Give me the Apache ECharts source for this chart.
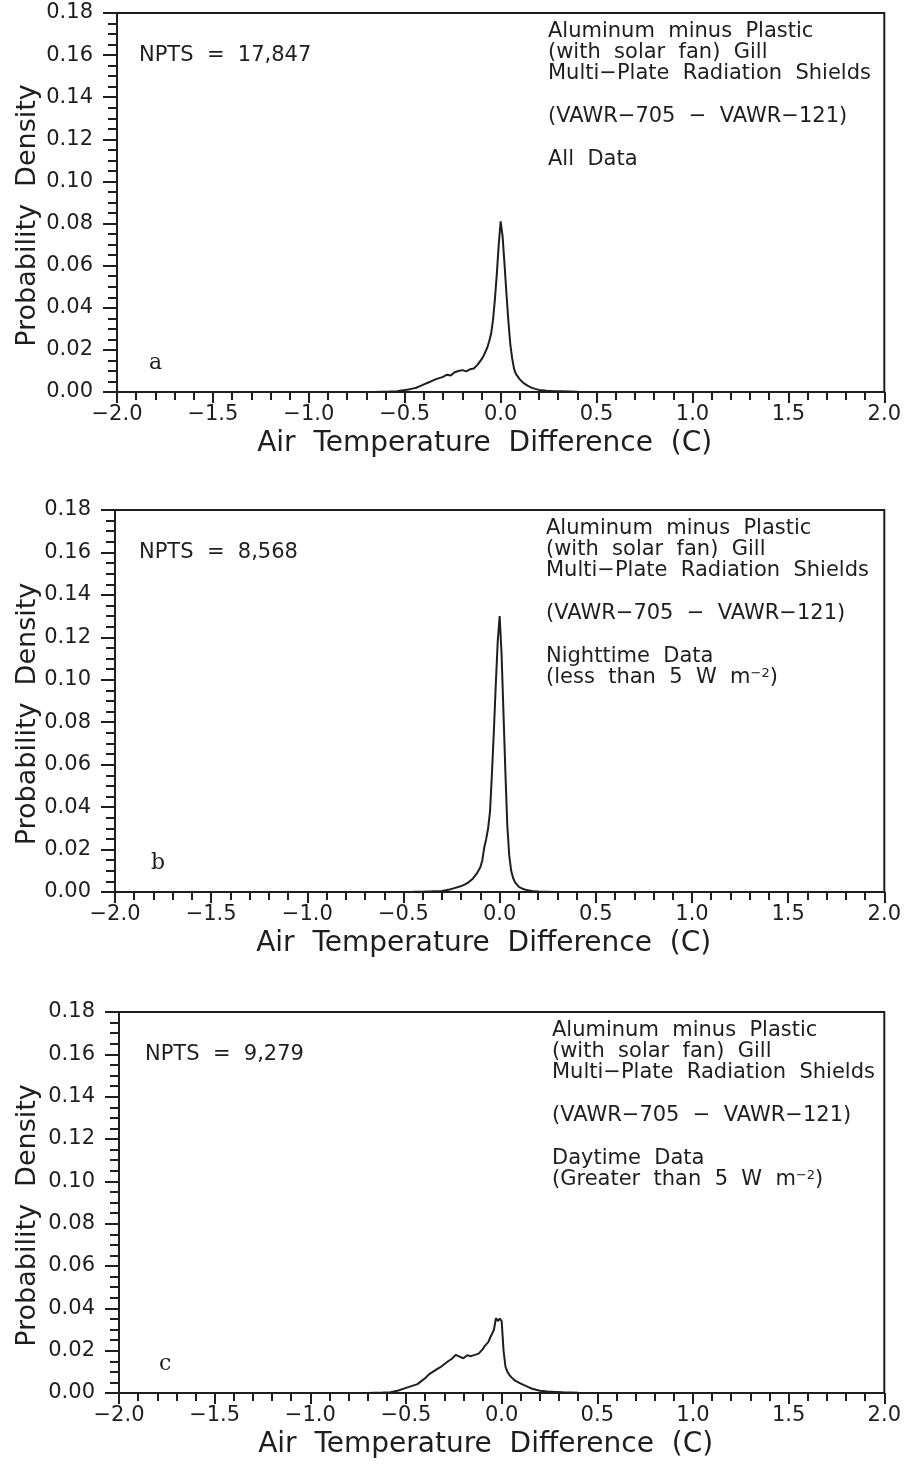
<html>
<head>
    <title></title>
    <meta charset="utf-8">
    <script src="https://cdn.jsdelivr.net/npm/echarts@6/dist/echarts.min.js" type="text/javascript"></script>
    <style>
        body { margin: 0; background: #fff; }
    </style>
</head>
<body>
    <div id="main" style="width: 904px; height: 1464px"></div>
    <script>
        // temperature difference (C) at which the densities were read
        var xs = [-0.70, -0.66, -0.62, -0.58, -0.54,
            -0.50, -0.48, -0.46, -0.44, -0.42, -0.40, -0.38, -0.36, -0.34, -0.32, -0.30,
            -0.28, -0.26, -0.24, -0.22, -0.20, -0.18, -0.16, -0.14, -0.12, -0.10,
            -0.09, -0.08, -0.07, -0.06, -0.05, -0.04, -0.03, -0.02, -0.01, 0.00,
            0.01, 0.02, 0.03, 0.04, 0.05, 0.06, 0.07, 0.08,
            0.10, 0.12, 0.14, 0.16, 0.18, 0.20, 0.24, 0.28, 0.32, 0.36, 0.40, 0.45, 0.50];

        // (a) all data
        var allData = [0, 0, 0.0001, 0.0002, 0.0004,
            0.0009, 0.0012, 0.0016, 0.0020, 0.0028, 0.0036, 0.0044, 0.0052, 0.0060, 0.0066, 0.0072,
            0.0082, 0.0078, 0.0094, 0.0100, 0.0104, 0.0098, 0.0108, 0.0112, 0.0130, 0.0155,
            0.0170, 0.0190, 0.0210, 0.0240, 0.0275, 0.0340, 0.0440, 0.0560, 0.0700, 0.0810,
            0.0740, 0.0610, 0.0470, 0.0340, 0.0230, 0.0160, 0.0110, 0.0085,
            0.0060, 0.0042, 0.0030, 0.0021, 0.0015, 0.0010, 0.0006, 0.0004, 0.0003, 0.0002, 0.0001, 0, 0];

        // (b) nighttime data
        var nightData = [0, 0, 0, 0, 0,
            0, 0, 0, 0.0001, 0.0001, 0.0001, 0.0002, 0.0002, 0.0003, 0.0003, 0.0005,
            0.0008, 0.0012, 0.0017, 0.0022, 0.0028, 0.0036, 0.0047, 0.0063, 0.0085, 0.0118,
            0.0150, 0.0210, 0.0250, 0.0300, 0.0380, 0.0560, 0.0760, 0.0980, 0.1180, 0.1300,
            0.1120, 0.0840, 0.0560, 0.0310, 0.0170, 0.0100, 0.0066, 0.0045,
            0.0024, 0.0015, 0.0009, 0.0006, 0.0003, 0.0002, 0.0001, 0, 0, 0, 0, 0, 0];

        // (c) daytime data
        var dayData = [0, 0.0001, 0.0002, 0.0004, 0.0012,
            0.0024, 0.0030, 0.0036, 0.0042, 0.0056, 0.0070, 0.0088, 0.0100, 0.0112, 0.0122, 0.0136,
            0.0150, 0.0162, 0.0180, 0.0172, 0.0164, 0.0178, 0.0174, 0.0180, 0.0186, 0.0206,
            0.0220, 0.0214, 0.0240, 0.0262, 0.0280, 0.0300, 0.0354, 0.0340, 0.0352, 0.0340,
            0.0200, 0.0124, 0.0100, 0.0086, 0.0075, 0.0066, 0.0058, 0.0052,
            0.0044, 0.0036, 0.0028, 0.0020, 0.0015, 0.0011, 0.0007, 0.0005, 0.0003, 0.0002, 0.0001, 0, 0];

        var npts = ['17,847', '8,568', '9,279'];
        var panelLetters = ['a', 'b', 'c'];

        var ink = '#1e1e1e';
        var sans = 'DejaVu Sans';

        function pairs(ys) {
            var out = [];
            for (var i = 0; i < xs.length; i++) out.push([xs[i], ys[i]]);
            return out;
        }

        function fmtX(v) {
            var s = Math.abs(v).toFixed(1);
            return v < 0 ? '\u2212' + s : s;
        }

        // grid placement of the three panels
        var grids = [
            { left: 117, top: 13, width: 768, height: 379 },
            { left: 115, top: 510, width: 770, height: 382 },
            { left: 119, top: 1012, width: 768, height: 381 }
        ];

        var option = { animation: false, grid: [], xAxis: [], yAxis: [], series: [], graphic: [] };

        var sets = [allData, nightData, dayData];
        var notes = [
            ['All  Data'],
            ['Nighttime  Data', '{t|(less  than  5  W  m}{s|\u22122}{t|)}'],
            ['Daytime  Data', '{t|(Greater  than  5  W  m}{s|\u22122}{t|)}']
        ];

        for (var i = 0; i < 3; i++) {
            var g = grids[i];
            option.grid.push({
                left: g.left, top: g.top, width: g.width, height: g.height,
                show: true, borderColor: ink, borderWidth: 2
            });
            option.xAxis.push({
                type: 'value', gridIndex: i, min: -2, max: 2, interval: 0.5,
                axisLine: { show: true, onZero: false, lineStyle: { color: ink, width: 2 } },
                axisTick: { show: true, inside: false, length: 11, lineStyle: { color: ink, width: 2 } },
                minorTick: { show: true, splitNumber: 5, length: 8, lineStyle: { color: ink, width: 2 } },
                splitLine: { show: false },
                axisLabel: { margin: 12, fontSize: 21, color: ink, fontFamily: sans, formatter: fmtX,
                    showMinLabel: true, showMaxLabel: true },
                name: 'Air  Temperature  Difference  (C)', nameLocation: 'middle', nameGap: 38,
                nameTextStyle: { fontSize: 28, color: ink, fontFamily: sans, padding: [0, 32, 0, 0] }
            });
            option.yAxis.push({
                type: 'value', gridIndex: i, min: 0, max: 0.18, interval: 0.02,
                axisLine: { show: true, onZero: false, lineStyle: { color: ink, width: 2 } },
                axisTick: { show: true, inside: false, length: 14, lineStyle: { color: ink, width: 2 } },
                minorTick: { show: true, splitNumber: 4, length: 9, lineStyle: { color: ink, width: 2 } },
                splitLine: { show: false },
                axisLabel: { margin: 24, fontSize: 21, color: ink, fontFamily: sans,
                    formatter: function (v) { return v.toFixed(2); } }
            });
            option.series.push({
                type: 'line', xAxisIndex: i, yAxisIndex: i, data: pairs(sets[i]),
                showSymbol: false, smooth: false,
                lineStyle: { color: ink, width: 2 }
            });

            // y axis title, rotated
            option.graphic.push({
                type: 'text', x: 28, y: g.top + g.height / 2 + 13, rotation: Math.PI / 2,
                style: { text: 'Probability  Density', fontSize: 27, fill: ink, fontFamily: sans,
                    align: 'center', verticalAlign: 'middle' }
            });

            // annotations
            option.graphic.push({
                type: 'text', left: g.left + 22 + i * 2, top: g.top + 32,
                style: { text: 'NPTS  =  ' + npts[i], fontSize: 21, fill: ink, fontFamily: sans }
            });
            var bx = g.left + 431 + (i == 2 ? 2 : 0);
            var lines = ['Aluminum  minus  Plastic', '(with  solar  fan)  Gill', 'Multi\u2212Plate  Radiation  Shields'];
            option.graphic.push({
                type: 'text', left: bx, top: g.top + 8,
                style: { text: lines.join('\n'), fontSize: 21, lineHeight: 21, fill: ink, fontFamily: sans }
            });
            option.graphic.push({
                type: 'text', left: bx, top: g.top + 93,
                style: { text: '(VAWR\u2212705  \u2212  VAWR\u2212121)', fontSize: 21, fill: ink, fontFamily: sans }
            });
            var nl = notes[i];
            option.graphic.push({
                type: 'text', left: bx, top: g.top + 136,
                style: {
                    text: nl.length > 1 ? '{t|' + nl[0] + '}\n' + nl[1] : nl[0],
                    fontSize: 21, lineHeight: 21, fill: ink, fontFamily: sans,
                    rich: {
                        t: { fontSize: 21, fill: ink, fontFamily: sans, lineHeight: 21 },
                        s: { fontSize: 13, fill: ink, fontFamily: sans, verticalAlign: 'top', lineHeight: 21, padding: [0, 0, 8, 0] }
                    }
                }
            });
            option.graphic.push({
                type: 'text', left: g.left + 32 + i * 4, top: g.top + g.height - 40,
                style: { text: panelLetters[i], fontSize: 22, fill: ink, fontFamily: 'DejaVu Serif' }
            });
        }

        var myChart = echarts.init(document.getElementById('main'));
        myChart.setOption(option);
    </script>
</body>
</html>
